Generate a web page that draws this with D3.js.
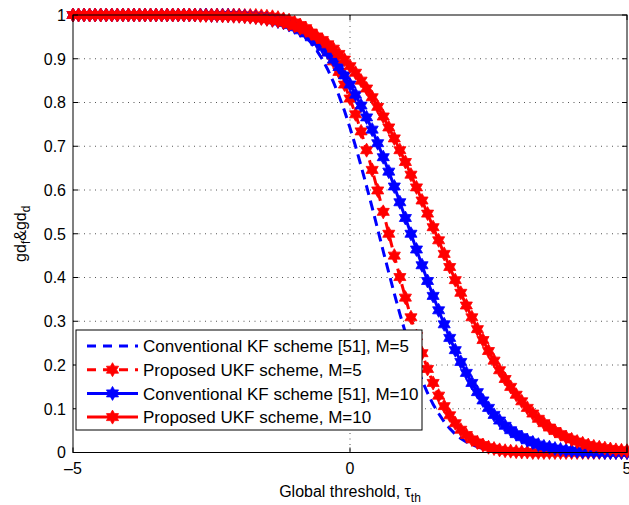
<!DOCTYPE html>
<html>
<head>
<meta charset="utf-8">
<script src="https://cdnjs.cloudflare.com/ajax/libs/d3/7.8.5/d3.min.js"></script>
<style>
body { margin: 0; background: #fff; }
text { font-family: "Liberation Sans", Arial, sans-serif; fill: #000; }
</style>
</head>
<body>
<div id="chart-div"></div>
<script>
// threshold grid: -5 .. 5, step 0.1 (101 points)
var xStart = -5, xStep = 0.1;

// Conventional KF scheme [51], M=5
var kf5 = [1,1,1,1,1,1,1,1,1,1, 1,1,1,1,1,1,1,1,1,1, 1,1,1,1,1,1,1,1,1,
  0.999,0.999,0.999,0.998,0.997,0.996,0.994,0.992,0.989,0.984,
  0.979,0.971,0.962,0.951,0.936,0.919,0.899,0.875,0.847,0.816,
  0.781,0.742,0.700,0.655,0.608,0.560,0.510,0.460,0.411,0.363,
  0.317,0.274,0.234,0.198,0.165,0.136,0.110,0.089,0.070,0.055,
  0.042,0.032,0.024,0.018,0.013,0.009,0.007,0.005,0.003,0.002,
  0.001,0.001,
  0,0,0,0,0,0,0,0,0,0, 0,0,0,0,0,0,0,0,0,0];

// Proposed UKF scheme, M=5
var ukf5 = [1,1,1,1,1,1,1,1,1,1, 1,1,1,1,1,1,1,1,1,1, 1,1,1,1,1,1,1,1,1,1, 1,
  0.999,0.999,0.999,0.998,0.997,0.996,0.994,0.991,0.988,0.983,
  0.977,0.970,0.960,0.948,0.933,0.915,0.894,0.870,0.841,0.809,
  0.773,0.734,0.691,0.646,0.599,0.550,0.500,0.450,0.401,0.354,
  0.309,0.266,0.227,0.191,0.159,0.130,0.106,0.085,0.067,0.052,
  0.040,0.030,0.023,0.017,0.012,0.009,0.006,0.004,0.003,0.002,
  0.001,0.001,
  0,0,0,0,0,0,0,0,0,0, 0,0,0,0,0,0,0,0];

// Conventional KF scheme [51], M=10
var kf10 = [1,1,1,1,1,1,1,1,1,1, 1,1,1,1,1,1,1,1,1,1, 1,1,1,1,1,
  0.999,0.999,0.999,0.999,0.998,0.998,0.997,0.996,0.995,0.993,
  0.991,0.988,0.985,0.982,0.977,0.972,0.965,0.958,0.949,0.939,
  0.927,0.914,0.898,0.881,0.862,0.841,0.818,0.793,0.766,0.738,
  0.707,0.675,0.642,0.608,0.572,0.536,0.500,0.464,0.428,0.392,
  0.358,0.325,0.293,0.262,0.234,0.207,0.182,0.159,0.138,0.119,
  0.102,0.086,0.073,0.061,0.051,0.042,0.035,0.028,0.023,0.018,
  0.014,0.012,0.009,0.007,0.005,0.004,0.003,0.002,0.002,0.001,
  0.001,
  0,0,0,0,0];

// Proposed UKF scheme, M=10
var ukf10 = [1,1,1,1,1,1,1,1,1,1, 1,1,1,1,1,1,1,1,1,1, 1,1,1,
  0.999,0.999,0.999,0.999,0.998,0.998,0.997,0.997,0.996,0.995,
  0.994,0.992,0.990,0.988,0.986,0.983,0.979,0.975,0.970,0.965,
  0.958,0.951,0.943,0.933,0.923,0.911,0.898,0.883,0.868,0.850,
  0.832,0.812,0.790,0.768,0.743,0.718,0.691,0.664,0.635,0.606,
  0.576,0.546,0.515,0.485,0.454,0.424,0.394,0.365,0.336,0.309,
  0.282,0.257,0.232,0.210,0.188,0.168,0.150,0.132,0.117,0.102,
  0.089,0.077,0.067,0.057,0.049,0.042,0.035,0.030,0.025,0.021,
  0.017,0.014,0.012,0.010,0.008,0.006,0.005,0.004];

var xTicks = [-5, 0, 5];
var yTicks = [0, 0.1, 0.2, 0.3, 0.4, 0.5, 0.6, 0.7, 0.8, 0.9, 1];
var yTickLabels = ["0", "0.1", "0.2", "0.3", "0.4", "0.5", "0.6", "0.7", "0.8", "0.9", "1"];
var legendLabels = ["Conventional KF scheme [51], M=5", "Proposed UKF scheme, M=5",
                    "Conventional KF scheme [51], M=10", "Proposed UKF scheme, M=10"];

var width = 629, height = 505;
var margin = {top: 15, right: 2, bottom: 52.5, left: 73};
var w = width - margin.left - margin.right,
    h = height - margin.top - margin.bottom;

var svg = d3.select('#chart-div')
            .append('svg')
            .attr('width', width)
            .attr('height', height);

var g = svg.append('g')
    .attr('transform', 'translate(' + margin.left + ',' + margin.top + ')');

var x = d3.scaleLinear().domain([-5, 5]).range([0, w]);
var y = d3.scaleLinear().domain([0, 1]).range([h, 0]);

var series = [
    {name: legendLabels[0], values: kf5,   color: '#0000ff', dash: '10,6', marker: false},
    {name: legendLabels[1], values: ukf5,  color: '#ff0000', dash: '10,6', marker: true},
    {name: legendLabels[2], values: kf10,  color: '#0000ff', dash: null,   marker: true},
    {name: legendLabels[3], values: ukf10, color: '#ff0000', dash: null,   marker: true}
];

// six pointed star (matlab 'hexagram')
function hexagram(cx, cy, R) {
    var r = R / Math.sqrt(3), p = [];
    for (var i = 0; i < 12; i++) {
        var a = -Math.PI / 2 + i * Math.PI / 6;
        var rr = (i % 2 == 0) ? R : r;
        p.push((cx + rr * Math.cos(a)).toFixed(2) + ',' + (cy + rr * Math.sin(a)).toFixed(2));
    }
    return 'M' + p.join('L') + 'Z';
}

// grid (dotted)
g.selectAll('.ygrid')
    .data(yTicks.slice(1, -1))
    .enter().append('line')
    .attr('class', 'ygrid')
    .attr('x1', 0).attr('x2', w)
    .attr('y1', function(d) { return y(d); })
    .attr('y2', function(d) { return y(d); })
    .attr('stroke', '#555').attr('stroke-width', 1)
    .attr('stroke-dasharray', '1,4.5');

g.selectAll('.xgrid')
    .data(xTicks.slice(1, -1))
    .enter().append('line')
    .attr('class', 'xgrid')
    .attr('y1', 0).attr('y2', h)
    .attr('x1', function(d) { return x(d); })
    .attr('x2', function(d) { return x(d); })
    .attr('stroke', '#555').attr('stroke-width', 1)
    .attr('stroke-dasharray', '1,4.5');

var line = d3.line()
    .x(function(d, i) { return x(xStart + i * xStep); })
    .y(function(d) { return y(d); });

series.forEach(function(s) {
    g.append('path')
        .datum(s.values)
        .attr('fill', 'none')
        .attr('stroke', s.color)
        .attr('stroke-width', 3)
        .attr('stroke-dasharray', s.dash)
        .attr('d', line);
    if (s.marker) {
        g.append('g').selectAll('path')
            .data(s.values)
            .enter().append('path')
            .attr('fill', s.color)
            .attr('stroke', s.color)
            .attr('stroke-width', 0.8)
            .attr('d', function(d, i) { return hexagram(x(xStart + i * xStep), y(d), 7); });
    }
});

// box
g.append('rect')
    .attr('width', w).attr('height', h)
    .attr('fill', 'none').attr('stroke', '#000').attr('stroke-width', 1);

// ticks inside, on all four sides
var tl = 5;
yTicks.forEach(function(t) {
    g.append('line').attr('x1', 0).attr('x2', tl).attr('y1', y(t)).attr('y2', y(t)).attr('stroke', '#000');
    g.append('line').attr('x1', w).attr('x2', w - tl).attr('y1', y(t)).attr('y2', y(t)).attr('stroke', '#000');
});
xTicks.forEach(function(t) {
    g.append('line').attr('y1', h).attr('y2', h - tl).attr('x1', x(t)).attr('x2', x(t)).attr('stroke', '#000');
    g.append('line').attr('y1', 0).attr('y2', tl).attr('x1', x(t)).attr('x2', x(t)).attr('stroke', '#000');
});

// tick labels
g.selectAll('.ylab')
    .data(yTicks)
    .enter().append('text')
    .attr('class', 'ylab')
    .attr('x', -7)
    .attr('y', function(d) { return y(d); })
    .attr('dy', '0.36em')
    .attr('text-anchor', 'end')
    .style('font-size', '16px')
    .text(function(d, i) { return yTickLabels[i]; });

g.selectAll('.xlab')
    .data(xTicks)
    .enter().append('text')
    .attr('class', 'xlab')
    .attr('x', function(d) { return x(d); })
    .attr('y', h + 21)
    .attr('text-anchor', 'middle')
    .style('font-size', '16px')
    .text(function(d) { return d < 0 ? '\u2013' + Math.abs(d) : d; });

// axis titles
var xt = g.append('text')
    .attr('x', w / 2)
    .attr('y', h + 44)
    .attr('text-anchor', 'middle')
    .style('font-size', '16px');
xt.append('tspan').text('Global threshold, \u03c4');
xt.append('tspan').attr('dy', 5).style('font-size', '12px').text('th');

var yt = g.append('text')
    .attr('transform', 'translate(' + (-47) + ',' + (h / 2) + ') rotate(-90)')
    .attr('text-anchor', 'middle')
    .style('font-size', '16px');
yt.append('tspan').text('gd');
yt.append('tspan').attr('dy', 4).style('font-size', '12px').text('f');
yt.append('tspan').attr('dy', -4).text('&gd');
yt.append('tspan').attr('dy', 4).style('font-size', '12px').text('d');

// Legend
var legend = svg.append('g')
    .attr('class', 'legend')
    .attr('transform', 'translate(76,330)');

legend.append('rect')
    .attr('width', 346).attr('height', 100)
    .attr('fill', '#fff').attr('stroke', '#000').attr('stroke-width', 1);

var rowY = function(i) { return 16 + i * 23.7; };

series.forEach(function(s, i) {
    legend.append('line')
        .attr('x1', 11).attr('x2', 62)
        .attr('y1', rowY(i)).attr('y2', rowY(i))
        .attr('stroke', s.color).attr('stroke-width', 3)
        .attr('stroke-dasharray', s.dash ? '9,7' : null);
    if (s.marker) {
        legend.append('path')
            .attr('fill', s.color).attr('stroke', s.color).attr('stroke-width', 0.8)
            .attr('d', hexagram(36.5, rowY(i), 7));
    }
    legend.append('text')
        .attr('x', 67)
        .attr('y', rowY(i))
        .attr('dy', '0.36em')
        .style('font-size', '17px')
        .text(s.name);
});
</script>
</body>
</html>
